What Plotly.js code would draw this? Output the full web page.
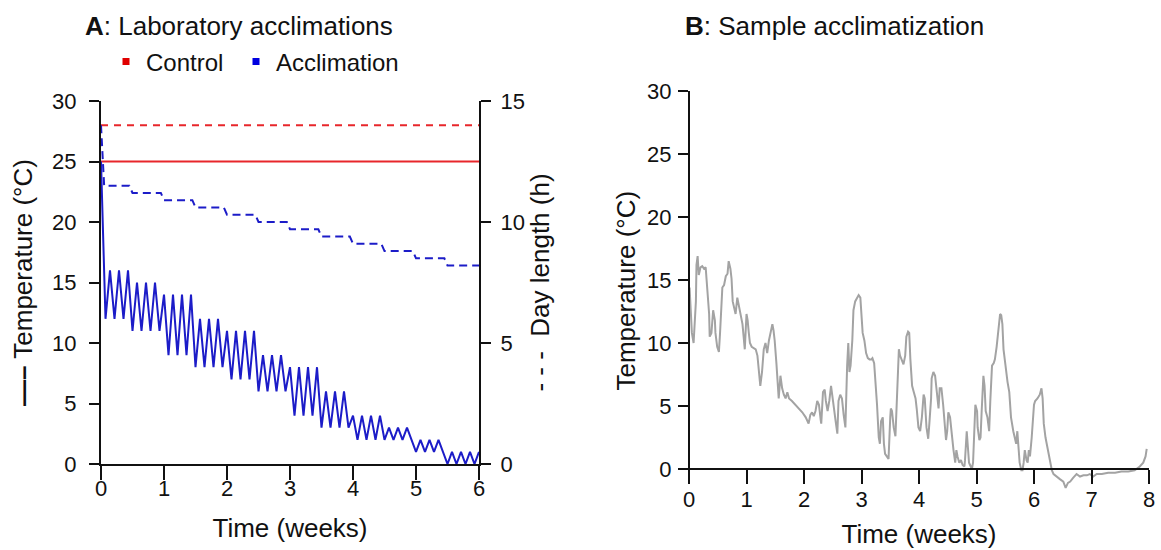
<!DOCTYPE html>
<html>
<head>
<meta charset="utf-8">
<script src="https://cdn.plot.ly/plotly-3.0.1.min.js"></script>
<style>html,body{margin:0;padding:0;background:#fff;}#chart{width:1161px;height:550px;}</style>
</head>
<body>
<div id="chart"></div>
<script>
// ---------- Panel A: laboratory acclimations ----------
const weekTicksA = [0, 1, 2, 3, 4, 5, 6];
const tempTicks = [0, 5, 10, 15, 20, 25, 30];
const dayTicks = [0, 5, 10, 15];

// control treatment (constant)
const controlX = [0, 6];
const controlTemp = [25, 25];
const controlDay = [14, 14];

// acclimation temperature, one value every half day (x = half-day index / 14 weeks)
const acclimHalfDay = [
  0, 1, 2, 3, 4, 5, 6, 7, 8, 9, 10, 11, 12, 13, 14, 15, 16, 17, 18, 19, 20,
  21, 22, 23, 24, 25, 26, 27, 28, 29, 30, 31, 32, 33, 34, 35, 36, 37, 38, 39, 40, 41,
  42, 43, 44, 45, 46, 47, 48, 49, 50, 51, 52, 53, 54, 55, 56, 57, 58, 59, 60, 61, 62,
  63, 64, 65, 66, 67, 68, 69, 70, 71, 72, 73, 74, 75, 76, 77, 78, 79, 80, 81, 82, 83, 84];
const acclimTemp = [
  25, 12, 16, 12, 16, 12, 16,
  11, 15, 11, 15, 11, 15, 11,
  14, 9, 14, 9, 14, 9, 14,
  8, 12, 8, 12, 8, 12, 8,
  11, 7, 11, 7, 11, 7, 11,
  6, 9, 6, 9, 6, 9, 6,
  8, 4, 8, 4, 8, 4, 8,
  3, 6, 3, 6, 3, 6, 3,
  4, 2, 4, 2, 4, 2, 4,
  2, 3, 2, 3, 2, 3, 2,
  1, 2, 1, 2, 1, 2, 1,
  0, 1, 0, 1, 0, 1, 0, 1];

// acclimation day length (h)
const acclimDayX = [0, 0.05, 0.45, 0.5, 0.95, 1.0, 1.45, 1.5, 1.95, 2.0, 2.45, 2.5,
  2.95, 3.0, 3.45, 3.5, 3.95, 4.0, 4.45, 4.5, 4.95, 5.0, 5.45, 5.5, 6.0];
const acclimDay = [14, 11.5, 11.5, 11.2, 11.2, 10.9, 10.9, 10.6, 10.6, 10.3, 10.3, 10.0,
  10.0, 9.7, 9.7, 9.4, 9.4, 9.1, 9.1, 8.8, 8.8, 8.5, 8.5, 8.2, 8.2];

// ---------- Panel B: sample acclimatization ----------
const weekTicksB = [0, 1, 2, 3, 4, 5, 6, 7, 8];
const sampleWeeks = [
  0.01, 0.03, 0.05, 0.08, 0.10, 0.12, 0.13, 0.15, 0.17, 0.20, 0.23, 0.26, 0.29, 0.31, 0.33, 0.35,
  0.36, 0.39, 0.41, 0.42, 0.45, 0.46, 0.49, 0.52, 0.54, 0.56, 0.58, 0.61, 0.64, 0.67, 0.69, 0.72,
  0.74, 0.76, 0.79, 0.81, 0.84, 0.87, 0.90, 0.93, 0.95, 0.97, 1.00, 1.02, 1.04, 1.06, 1.09, 1.13,
  1.16, 1.19, 1.22, 1.24, 1.27, 1.30, 1.33, 1.36, 1.39, 1.42, 1.45, 1.47, 1.49, 1.52, 1.54, 1.56,
  1.59, 1.62, 1.65, 1.68, 1.71, 1.74, 1.79, 1.85, 1.91, 1.97, 2.03, 2.08, 2.11, 2.14, 2.17, 2.20,
  2.23, 2.26, 2.29, 2.30, 2.33, 2.36, 2.38, 2.41, 2.44, 2.47, 2.49, 2.52, 2.55, 2.58, 2.60, 2.63,
  2.66, 2.69, 2.72, 2.75, 2.77, 2.79, 2.81, 2.84, 2.86, 2.89, 2.92, 2.95, 2.98, 3.00, 3.02, 3.05,
  3.08, 3.11, 3.14, 3.17, 3.19, 3.22, 3.24, 3.27, 3.30, 3.32, 3.34, 3.37, 3.39, 3.41, 3.44, 3.47,
  3.50, 3.51, 3.53, 3.56, 3.59, 3.62, 3.65, 3.67, 3.70, 3.73, 3.76, 3.78, 3.81, 3.83, 3.85, 3.88,
  3.91, 3.94, 3.96, 3.99, 4.02, 4.05, 4.08, 4.10, 4.13, 4.16, 4.18, 4.21, 4.22, 4.25, 4.28, 4.31,
  4.34, 4.36, 4.39, 4.42, 4.44, 4.47, 4.49, 4.51, 4.54, 4.57, 4.60, 4.63, 4.65, 4.67, 4.70, 4.73,
  4.76, 4.79, 4.80, 4.83, 4.85, 4.87, 4.90, 4.92, 4.94, 4.97, 4.98, 5.01, 5.02, 5.05, 5.07, 5.09,
  5.12, 5.14, 5.16, 5.19, 5.22, 5.24, 5.27, 5.30, 5.32, 5.35, 5.38, 5.41, 5.43, 5.45, 5.47, 5.50,
  5.52, 5.54, 5.57, 5.60, 5.64, 5.67, 5.69, 5.71, 5.73, 5.75, 5.78, 5.80, 5.82, 5.84, 5.87, 5.89,
  5.91, 5.93, 5.96, 6.00, 6.02, 6.06, 6.10, 6.13, 6.15, 6.17, 6.20, 6.24, 6.28, 6.31, 6.34, 6.39,
  6.45, 6.51, 6.55, 6.59, 6.63, 6.68, 6.74, 6.80, 6.86, 6.92, 6.97, 7.03, 7.09, 7.18, 7.29, 7.41,
  7.52, 7.64, 7.75, 7.84, 7.90, 7.94, 7.96];
const sampleTemp = [
  14.4, 12.3, 10.8, 10.0, 11.3, 13.3, 16.2, 16.9, 15.4, 16.0, 16.1, 15.9, 16.0, 14.6, 13.3, 12.3,
  10.5, 10.8, 12.0, 12.6, 11.8, 10.8, 9.7, 9.3, 10.8, 13.1, 14.4, 14.6, 15.3, 15.5, 16.5, 15.9,
  15.1, 13.3, 12.6, 12.3, 13.6, 12.8, 12.3, 11.5, 10.5, 9.5, 12.3, 11.8, 10.8, 10.0, 9.7, 9.6,
  9.5, 9.0, 7.7, 6.6, 7.7, 9.5, 10.0, 9.2, 10.2, 10.8, 11.5, 11.0, 10.2, 8.4, 6.4, 5.6,
  7.4, 6.4, 5.9, 5.6, 6.1, 5.6, 5.4, 5.1, 4.8, 4.5, 4.1, 3.6, 4.3, 4.5, 4.2, 4.6,
  5.4, 5.1, 3.9, 3.6, 6.1, 6.3, 5.4, 4.6, 5.4, 6.6, 5.9, 4.6, 3.8, 2.8, 5.4, 5.9,
  5.6, 4.3, 3.3, 8.2, 10.0, 7.7, 8.2, 10.2, 12.6, 13.3, 13.6, 13.8, 13.6, 12.0, 10.8, 10.2,
  9.2, 8.8, 8.7, 8.7, 8.8, 8.4, 7.2, 5.1, 2.5, 2.0, 3.8, 4.1, 2.0, 1.2, 1.0, 0.8,
  4.1, 4.8, 4.6, 3.3, 2.6, 6.1, 9.5, 9.0, 8.7, 8.3, 9.0, 10.5, 10.9, 10.8, 8.7, 6.6,
  6.1, 5.6, 4.8, 3.3, 3.0, 4.1, 5.9, 5.6, 3.3, 2.4, 3.6, 5.6, 7.2, 7.7, 7.4, 6.1,
  4.8, 6.4, 6.4, 5.1, 3.6, 2.3, 3.0, 4.5, 4.1, 2.5, 1.5, 0.5, 1.5, 1.0, 0.5, 0.7,
  0.3, 0.2, 0.7, 3.0, 2.0, 0.5, 0.2, 0.0, 0.5, 4.1, 5.1, 4.6, 3.3, 2.3, 2.5, 4.6,
  7.4, 6.6, 4.6, 4.1, 3.0, 5.4, 8.2, 8.4, 8.7, 9.7, 10.8, 12.3, 12.2, 11.5, 9.5, 8.2,
  7.7, 6.9, 6.1, 4.1, 3.0, 2.5, 2.0, 3.0, 2.0, 0.5, -0.1, -0.1, 0.5, 1.5, 0.7, 0.5,
  1.5, 1.0, 2.5, 5.1, 5.4, 5.6, 5.9, 6.4, 5.6, 3.6, 2.5, 1.5, 0.5, -0.1, -0.4, -0.6,
  -0.8, -1.0, -1.5, -1.1, -1.0, -0.7, -0.4, -0.6, -0.5, -0.5, -0.4, -0.6, -0.4, -0.4, -0.3, -0.3,
  -0.2, -0.2, -0.1, 0.2, 0.5, 1.0, 1.6];

// ---------- styling ----------
const FONT = 'Liberation Sans, Arial, sans-serif';
const RED = '#e8262b';
const BLUE = '#1c1cc8';
const GRAY = '#a3a3a3';
const W = 1161, H = 550;
const px = v => v / W;
const py = v => (H - v) / H;

const acclimX = acclimHalfDay.map(k => k / 14);

const traces = [
  {x: controlX, y: controlTemp, xaxis: 'x', yaxis: 'y', mode: 'lines', showlegend: false,
   line: {color: RED, width: 2}, hoverinfo: 'skip'},
  {x: controlX, y: controlDay, xaxis: 'x', yaxis: 'y2', mode: 'lines', showlegend: false,
   line: {color: RED, width: 2, dash: '7px,6px'}, hoverinfo: 'skip'},
  {x: acclimDayX, y: acclimDay, xaxis: 'x', yaxis: 'y2', mode: 'lines', showlegend: false,
   line: {color: BLUE, width: 2, dash: '8px,5px'}, hoverinfo: 'skip'},
  {x: acclimX, y: acclimTemp, xaxis: 'x', yaxis: 'y', mode: 'lines', showlegend: false,
   line: {color: BLUE, width: 2}, hoverinfo: 'skip'},
  // legend entries
  {x: [null], y: [null], xaxis: 'x', yaxis: 'y', mode: 'markers', name: 'Control',
   legend: 'legend', marker: {symbol: 'square', size: 7, color: '#e00000'}},
  {x: [null], y: [null], xaxis: 'x', yaxis: 'y', mode: 'markers', name: 'Acclimation',
   legend: 'legend2', marker: {symbol: 'square', size: 7, color: '#0000e0'}},
  // panel B
  {x: sampleWeeks, y: sampleTemp, xaxis: 'x2', yaxis: 'y3', mode: 'lines', showlegend: false,
   line: {color: GRAY, width: 2}, hoverinfo: 'skip'}
];

const axisCommon = {
  showline: true, linecolor: '#111', linewidth: 2,
  ticks: 'outside', ticklen: 10, tickwidth: 2, tickcolor: '#111',
  showgrid: false, zeroline: false,
  tickfont: {family: FONT, size: 22, color: '#111'},
  fixedrange: true
};
const titleFont = {family: FONT, size: 26, color: '#111'};
const legendCommon = {orientation: 'h', xanchor: 'left', yanchor: 'middle', y: py(62),
  font: {family: FONT, size: 24, color: '#111'}, bgcolor: 'rgba(0,0,0,0)', itemwidth: 30};

const yBbottom = 469, yBtop = 91, yBmin = -1.7, yBmax = 30;
const pxPerUnitB = (yBbottom - yBtop) / yBmax;
const yBdomBottom = yBbottom - yBmin * pxPerUnitB; // pixel of y=-1.7 (below zero)

const layout = {
  width: W, height: H,
  margin: {l: 0, r: 0, t: 0, b: 0},
  paper_bgcolor: '#fff', plot_bgcolor: 'rgba(0,0,0,0)',
  font: {family: FONT, color: '#111'},
  showlegend: true,
  legend: Object.assign({}, legendCommon, {x: px(106)}),
  legend2: Object.assign({}, legendCommon, {x: px(236)}),
  xaxis: Object.assign({}, axisCommon, {
    domain: [px(101), px(479)], range: [0, 6], anchor: 'y',
    ticklen: 14, ticklabelstandoff: -10,
    tickmode: 'array', tickvals: weekTicksA,
    title: {text: 'Time (weeks)', font: titleFont, standoff: 18}
  }),
  yaxis: Object.assign({}, axisCommon, {
    domain: [py(464), py(101)], range: [0, 30], anchor: 'x',
    ticklabelstandoff: 8,
    tickmode: 'array', tickvals: tempTicks,
    title: {text: '<b>\u2014\u2013</b> Temperature (°C)', font: titleFont, standoff: 12}
  }),
  yaxis2: Object.assign({}, axisCommon, {
    overlaying: 'y', side: 'right', anchor: 'x', range: [0, 15],
    ticklabelstandoff: 5,
    tickmode: 'array', tickvals: dayTicks,
    title: {text: '- - -  Day length (h)', font: titleFont, standoff: 7}
  }),
  xaxis2: Object.assign({}, axisCommon, {
    domain: [px(689), px(1149)], range: [0, 8], anchor: 'free', position: py(yBbottom),
    ticklen: 14, ticklabelstandoff: -3,
    tickmode: 'array', tickvals: weekTicksB,
    title: {text: 'Time (weeks)', font: titleFont, standoff: 12}
  }),
  yaxis3: Object.assign({}, axisCommon, {
    domain: [py(yBdomBottom), py(yBtop)], range: [yBmin, yBmax], anchor: 'x2',
    showline: false, ticklabelstandoff: 2,
    tickmode: 'array', tickvals: tempTicks,
    title: {text: 'Temperature (°C)', font: titleFont, standoff: 4}
  }),
  shapes: [
    {type: 'line', xref: 'x2 domain', yref: 'y3', x0: 0, x1: 0, y0: -0.9, y1: 30,
     line: {color: '#111', width: 2}, layer: 'above'}
  ],
  annotations: [
    {text: '<b>A</b>: Laboratory acclimations', xref: 'paper', yref: 'paper',
     x: px(83), y: py(26), xanchor: 'left', yanchor: 'middle', showarrow: false,
     font: titleFont},
    {text: '<b>B</b>: Sample acclimatization', xref: 'paper', yref: 'paper',
     x: px(683), y: py(26), xanchor: 'left', yanchor: 'middle', showarrow: false,
     font: titleFont}
  ]
};

Plotly.newPlot('chart', traces, layout, {staticPlot: true, displayModeBar: false});
</script>
</body>
</html>
